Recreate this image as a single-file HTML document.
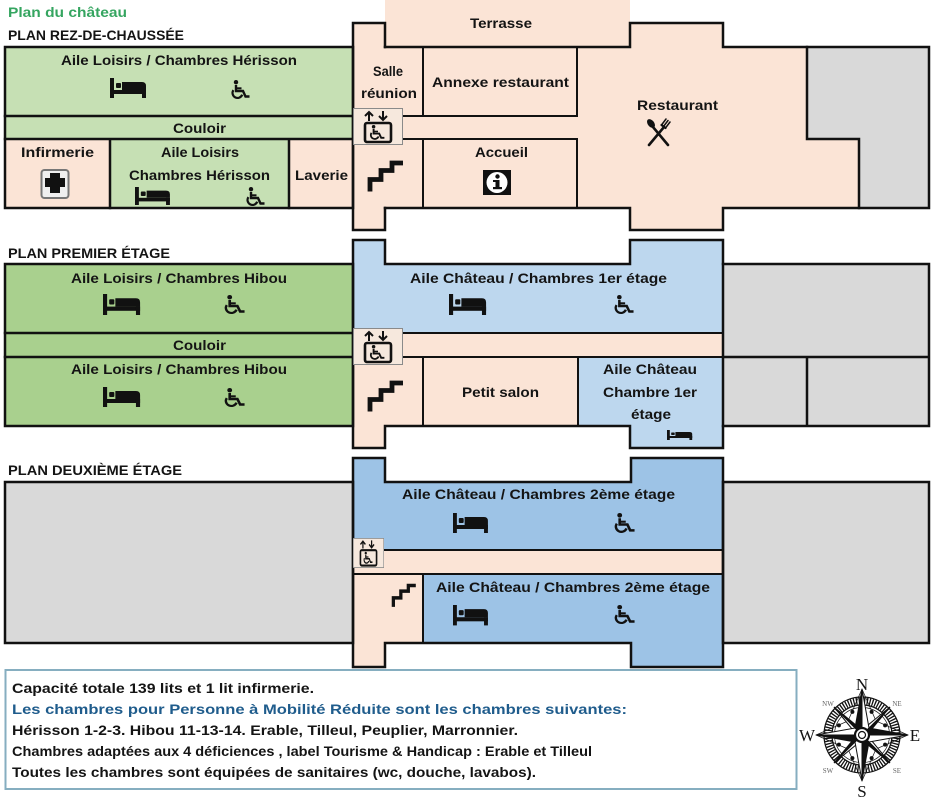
<!DOCTYPE html>
<html><head><meta charset="utf-8"><style>
html,body{margin:0;padding:0;background:#fff;}
svg{display:block;}
text{font-family:"Liberation Sans",sans-serif;font-weight:bold;font-size:14px;fill:#141414;}
.ser{font-family:"Liberation Serif",serif;font-weight:normal;}
</style></head><body>
<svg width="931" height="802" viewBox="0 0 931 802" xmlns="http://www.w3.org/2000/svg">
<defs>
 <g id="bed">
  <rect x="0" y="0" width="4" height="20" fill="#111"/>
  <rect x="0" y="12" width="36" height="4" fill="#111"/>
  <rect x="6" y="5" width="5" height="5" rx="1" fill="#111"/>
  <path d="M12,4 H32 Q36,4 36,8 V12 H12 Z" fill="#111"/>
  <rect x="32" y="12" width="4" height="8" fill="#111"/>
 </g>
 <g id="wc">
  <circle cx="7" cy="2.2" r="2.2" fill="#111"/>
  <path d="M7,5 V11 H14 L16.5,16.5 H20.5" stroke="#111" stroke-width="2.4" fill="none"/>
  <path d="M7,8.3 H12.5" stroke="#111" stroke-width="2" fill="none"/>
  <path d="M4.4,10.1 A5,5 0 1 0 13.2,14.7" stroke="#111" stroke-width="2.2" fill="none"/>
 </g>
 <g id="stairs">
  <path d="M2,30.5 V18.5 H13 V9.5 H24 V2 H35" stroke="#111" stroke-width="4.8" fill="none" stroke-linejoin="miter"/>
 </g>
 <g id="elev">
  <rect x="0.5" y="0.5" width="49" height="36" fill="#f6e8dd" stroke="#8a8a8a" stroke-width="1"/>
  <path d="M16,13 V4.5 M12,8 L16,4 L20,8" stroke="#111" stroke-width="2" fill="none"/>
  <path d="M30,3 V11.5 M26,8 L30,12 L34,8" stroke="#111" stroke-width="2" fill="none"/>
  <rect x="12" y="15" width="26" height="19" rx="2" fill="none" stroke="#111" stroke-width="2.6"/>
  <use href="#wc" transform="translate(15,17) scale(0.8,0.78)"/>
 </g>
</defs>

<!-- titles -->
<text x="8" y="17" textLength="119" lengthAdjust="spacingAndGlyphs" style="fill:#35a560">Plan du château</text>
<text x="8" y="40" textLength="176" lengthAdjust="spacingAndGlyphs">PLAN REZ-DE-CHAUSSÉE</text>
<text x="8" y="258" textLength="162" lengthAdjust="spacingAndGlyphs">PLAN PREMIER ÉTAGE</text>
<text x="8" y="475" textLength="174" lengthAdjust="spacingAndGlyphs">PLAN DEUXIÈME ÉTAGE</text>

<!-- ===== GROUND FLOOR fills ===== -->
<rect x="5" y="47" width="348" height="92" fill="#c6e0b4"/>
<rect x="110" y="139" width="179" height="69" fill="#c6e0b4"/>
<rect x="5" y="139" width="105" height="69" fill="#fbe4d6"/>
<rect x="289" y="139" width="64" height="69" fill="#fbe4d6"/>
<rect x="353" y="23" width="32" height="207" fill="#fbe4d6"/>
<rect x="385" y="0" width="245" height="47" fill="#fbe4d6"/>
<rect x="385" y="47" width="422" height="161" fill="#fbe4d6"/>
<rect x="807" y="139" width="52" height="69" fill="#fbe4d6"/>
<rect x="630" y="23" width="93" height="24" fill="#fbe4d6"/>
<rect x="630" y="208" width="93" height="22" fill="#fbe4d6"/>
<rect x="807" y="47" width="122" height="92" fill="#d9d9d9"/>
<rect x="859" y="139" width="70" height="69" fill="#d9d9d9"/>

<g stroke="#111" stroke-width="2.5" fill="none" stroke-linecap="square">
 <rect x="5" y="47" width="348" height="161"/>
 <path d="M5,116 H353 M5,139 H353 M110,139 V208 M289,139 V208"/>
 <path d="M353,23 V230 M353,23 H385 V47 M385,208 V230 H353"/>
 <path d="M385,47 H630 V23 H723 V47 H929 V208 H723 V230 H630 V208 H385"/>
 <path d="M807,47 V139 H859 V208"/>
</g>
<g stroke="#111" stroke-width="2" fill="none">
 <path d="M423,47 V116 M403,116 H577 V47 M403,139 H577 V208 M423,139 V208"/>
</g>

<!-- ground labels -->
<text x="61" y="65" textLength="236" lengthAdjust="spacingAndGlyphs">Aile Loisirs / Chambres Hérisson</text>
<use href="#bed" x="110" y="78"/>
<use href="#wc" x="229" y="80"/>
<text x="173" y="133" textLength="53" lengthAdjust="spacingAndGlyphs">Couloir</text>
<text x="21" y="157" textLength="73" lengthAdjust="spacingAndGlyphs">Infirmerie</text>
<rect x="41.5" y="170" width="27" height="28" rx="3" fill="#efefef" stroke="#777" stroke-width="2"/>
<rect x="45" y="178" width="20" height="9" fill="#111"/>
<rect x="50" y="173" width="10" height="20" fill="#111"/>
<text x="161" y="157" textLength="78" lengthAdjust="spacingAndGlyphs">Aile Loisirs</text>
<text x="129" y="180" textLength="141" lengthAdjust="spacingAndGlyphs">Chambres Hérisson</text>
<use href="#bed" transform="translate(135,187) scale(0.97,0.9)"/>
<use href="#wc" x="244" y="187"/>
<text x="295" y="180" textLength="53" lengthAdjust="spacingAndGlyphs">Laverie</text>
<text x="373" y="76" textLength="30" lengthAdjust="spacingAndGlyphs">Salle</text>
<text x="361" y="98" textLength="56" lengthAdjust="spacingAndGlyphs">réunion</text>
<text x="470" y="28" textLength="62" lengthAdjust="spacingAndGlyphs">Terrasse</text>
<text x="432" y="87" textLength="137" lengthAdjust="spacingAndGlyphs">Annexe restaurant</text>
<text x="475" y="157" textLength="53" lengthAdjust="spacingAndGlyphs">Accueil</text>
<rect x="483" y="170" width="28" height="25" fill="#111"/>
<circle cx="497" cy="182.5" r="10.5" fill="#fff"/>
<circle cx="497.5" cy="176.5" r="2.2" fill="#111"/>
<rect x="495.5" y="180" width="4" height="8" fill="#111"/>
<rect x="493" y="180" width="4" height="2" fill="#111"/>
<rect x="493" y="187" width="9" height="2.2" fill="#111"/>
<text x="637" y="110" textLength="81" lengthAdjust="spacingAndGlyphs">Restaurant</text>
<g stroke="#111" fill="none" stroke-linecap="round">
 <ellipse cx="651" cy="123.5" rx="3.2" ry="5" transform="rotate(-38 651 123.5)" fill="#111" stroke="none"/>
 <path d="M653,127 L668,145" stroke-width="2.6"/>
 <path d="M664,127 L649,145" stroke-width="2.6"/>
 <path d="M661.5,125 L666,119 M663.5,126.5 L668,120.5 M665.5,128 L670,122" stroke-width="1.5"/>
 <path d="M661.5,125 L665.5,128" stroke-width="2.2"/>
</g>
<use href="#elev" x="353" y="108"/>
<use href="#stairs" x="368" y="161"/>

<!-- ===== FIRST FLOOR ===== -->
<rect x="5" y="264" width="348" height="162" fill="#a9d08e"/>
<rect x="353" y="240" width="32" height="24" fill="#bdd7ee"/>
<rect x="353" y="264" width="370" height="69" fill="#bdd7ee"/>
<rect x="630" y="240" width="93" height="24" fill="#bdd7ee"/>
<rect x="578" y="357" width="145" height="69" fill="#bdd7ee"/>
<rect x="630" y="426" width="93" height="22" fill="#bdd7ee"/>
<rect x="353" y="333" width="370" height="24" fill="#fbe4d6"/>
<rect x="353" y="357" width="225" height="69" fill="#fbe4d6"/>
<rect x="353" y="426" width="32" height="22" fill="#fbe4d6"/>
<rect x="723" y="264" width="206" height="162" fill="#d9d9d9"/>
<g stroke="#111" stroke-width="2.5" fill="none" stroke-linecap="square">
 <rect x="5" y="264" width="348" height="162"/>
 <path d="M5,333 H353 M5,357 H353"/>
 <path d="M353,240 V448 M353,240 H385 V264 H630 V240 H723 V448 H630 V426 H385 V448 H353"/>
 <path d="M723,264 H929 V426 H723 M723,357 H929 M807,357 V426"/>
</g>
<g stroke="#111" stroke-width="2" fill="none">
 <path d="M402,333 H723 M402,357 H723 M423,357 V426 M578,357 V426"/>
</g>
<text x="71" y="283" textLength="216" lengthAdjust="spacingAndGlyphs">Aile Loisirs / Chambres Hibou</text>
<use href="#bed" transform="translate(103,294) scale(1.03,1.05)"/>
<use href="#wc" transform="translate(222,295) scale(1.1,1)"/>
<text x="173" y="350" textLength="53" lengthAdjust="spacingAndGlyphs">Couloir</text>
<text x="71" y="374" textLength="216" lengthAdjust="spacingAndGlyphs">Aile Loisirs / Chambres Hibou</text>
<use href="#bed" transform="translate(103,387) scale(1.03,1.0)"/>
<use href="#wc" transform="translate(222,388) scale(1.1,1)"/>
<text x="410" y="283" textLength="257" lengthAdjust="spacingAndGlyphs">Aile Château / Chambres 1er étage</text>
<use href="#bed" transform="translate(449,294) scale(1.03,1.05)"/>
<use href="#wc" transform="translate(612,295) scale(1.05,1)"/>
<text x="462" y="397" textLength="77" lengthAdjust="spacingAndGlyphs">Petit salon</text>
<text x="603" y="374" textLength="94" lengthAdjust="spacingAndGlyphs">Aile Château</text>
<text x="603" y="397" textLength="94" lengthAdjust="spacingAndGlyphs">Chambre 1er</text>
<text x="631" y="419" textLength="40" lengthAdjust="spacingAndGlyphs">étage</text>
<use href="#bed" transform="translate(667,430) scale(0.7,0.5)"/>
<use href="#elev" x="353" y="328"/>
<use href="#stairs" x="368" y="381"/>

<!-- ===== SECOND FLOOR ===== -->
<rect x="5" y="482" width="348" height="161" fill="#d9d9d9"/>
<rect x="723" y="482" width="206" height="161" fill="#d9d9d9"/>
<rect x="353" y="458" width="32" height="24" fill="#9dc3e6"/>
<rect x="353" y="482" width="370" height="68" fill="#9dc3e6"/>
<rect x="631" y="458" width="92" height="24" fill="#9dc3e6"/>
<rect x="423" y="574" width="300" height="69" fill="#9dc3e6"/>
<rect x="631" y="643" width="92" height="24" fill="#9dc3e6"/>
<rect x="353" y="550" width="370" height="24" fill="#fbe4d6"/>
<rect x="353" y="574" width="70" height="69" fill="#fbe4d6"/>
<rect x="353" y="643" width="32" height="24" fill="#fbe4d6"/>
<g stroke="#111" stroke-width="2.5" fill="none" stroke-linecap="square">
 <rect x="5" y="482" width="348" height="161"/>
 <path d="M353,458 V667 M353,458 H385 V482 H631 V458 H723 V667 H631 V643 H385 V667 H353"/>
 <rect x="723" y="482" width="206" height="161"/>
</g>
<g stroke="#111" stroke-width="2" fill="none">
 <path d="M384,550 H723 M353,574 H723 M423,574 V643"/>
</g>
<text x="402" y="499" textLength="273" lengthAdjust="spacingAndGlyphs">Aile Château / Chambres 2ème étage</text>
<use href="#bed" transform="translate(453,513) scale(0.97,1)"/>
<use href="#wc" transform="translate(612,513) scale(1.1,1.05)"/>
<text x="436" y="592" textLength="274" lengthAdjust="spacingAndGlyphs">Aile Château / Chambres 2ème étage</text>
<use href="#bed" transform="translate(453,605) scale(0.97,1.02)"/>
<use href="#wc" transform="translate(612,605) scale(1.1,1)"/>
<use href="#elev" transform="translate(353,538) scale(0.62,0.81)"/>
<use href="#stairs" transform="translate(392,584) scale(0.68,0.75)"/>

<!-- ===== INFO BOX ===== -->
<rect x="5.5" y="670" width="791" height="119" fill="#fff" stroke="#86aec0" stroke-width="2"/>
<text x="12" y="693" textLength="302" lengthAdjust="spacingAndGlyphs">Capacité totale 139 lits et 1 lit infirmerie.</text>
<text x="12" y="714" textLength="615" lengthAdjust="spacingAndGlyphs" style="fill:#1f5c8c">Les chambres pour Personne à Mobilité Réduite sont les chambres suivantes:</text>
<text x="12" y="735" textLength="506" lengthAdjust="spacingAndGlyphs">Hérisson 1-2-3. Hibou 11-13-14. Erable, Tilleul, Peuplier, Marronnier.</text>
<text x="12" y="756" textLength="580" lengthAdjust="spacingAndGlyphs">Chambres adaptées aux 4 déficiences , label Tourisme &amp; Handicap : Erable et Tilleul</text>
<text x="12" y="777" textLength="524" lengthAdjust="spacingAndGlyphs">Toutes les chambres sont équipées de sanitaires (wc, douche, lavabos).</text>

<!-- ===== COMPASS ===== -->
<g transform="translate(862,735)">
 <circle r="34" fill="none" stroke="#111" stroke-width="7" stroke-dasharray="1.3 1.4"/>
 <circle r="38" fill="none" stroke="#111" stroke-width="1.3"/>
 <circle r="30" fill="none" stroke="#111" stroke-width="1.3"/>
 <circle r="27.5" fill="none" stroke="#111" stroke-width="0.7"/>
 <g fill="#111">
  <circle cx="9.6" cy="-23.1" r="2"/><circle cx="23.1" cy="-9.6" r="2"/>
  <circle cx="23.1" cy="9.6" r="2"/><circle cx="9.6" cy="23.1" r="2"/>
  <circle cx="-9.6" cy="23.1" r="2"/><circle cx="-23.1" cy="9.6" r="2"/>
  <circle cx="-23.1" cy="-9.6" r="2"/><circle cx="-9.6" cy="-23.1" r="2"/>
 </g>
 <g stroke="#111" stroke-width="0.7" fill="none">
  <path d="M0,-46 L14,-14 L46,0 L14,14 L0,46 L-14,14 L-46,0 L-14,-14 Z"/>
 </g>
 <g stroke="#111" stroke-width="1" stroke-linejoin="miter">
  <polygon points="0,0 28,-28 5,0" fill="#111"/><polygon points="0,0 28,-28 0,-5" fill="#fff"/>
  <polygon points="0,0 28,28 0,5" fill="#111"/><polygon points="0,0 28,28 5,0" fill="#fff"/>
  <polygon points="0,0 -28,28 -5,0" fill="#111"/><polygon points="0,0 -28,28 0,5" fill="#fff"/>
  <polygon points="0,0 -28,-28 0,-5" fill="#111"/><polygon points="0,0 -28,-28 -5,0" fill="#fff"/>
 </g>
 <g stroke="#111" stroke-width="1" stroke-linejoin="miter">
  <polygon points="0,0 0,-46 -7,-7" fill="#111"/><polygon points="0,0 0,-46 7,-7" fill="#fff"/>
  <polygon points="0,0 46,0 7,-7" fill="#111"/><polygon points="0,0 46,0 7,7" fill="#fff"/>
  <polygon points="0,0 0,46 7,7" fill="#111"/><polygon points="0,0 0,46 -7,7" fill="#fff"/>
  <polygon points="0,0 -46,0 -7,7" fill="#111"/><polygon points="0,0 -46,0 -7,-7" fill="#fff"/>
 </g>
 <circle r="7" fill="#fff" stroke="#111" stroke-width="2.2"/>
 <circle r="3.5" fill="#fff" stroke="#111" stroke-width="1.2"/>
</g>
<text class="ser" x="862" y="690" text-anchor="middle" style="font-size:17px">N</text>
<text class="ser" x="862" y="797" text-anchor="middle" style="font-size:17px">S</text>
<text class="ser" x="807" y="741" text-anchor="middle" style="font-size:17px">W</text>
<text class="ser" x="915" y="741" text-anchor="middle" style="font-size:17px">E</text>
<text class="ser" x="828" y="706" text-anchor="middle" style="font-size:7px;fill:#666">NW</text>
<text class="ser" x="897" y="706" text-anchor="middle" style="font-size:7px;fill:#666">NE</text>
<text class="ser" x="828" y="773" text-anchor="middle" style="font-size:7px;fill:#666">SW</text>
<text class="ser" x="897" y="773" text-anchor="middle" style="font-size:7px;fill:#666">SE</text>
</svg>
</body></html>
